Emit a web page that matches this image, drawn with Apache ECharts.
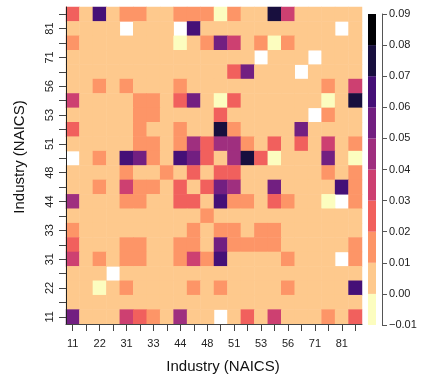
<!DOCTYPE html>
<html>
<head>
<meta charset="utf-8">
<script src="https://cdn.jsdelivr.net/npm/echarts@6/dist/echarts.min.js"></script>
<style>
  html, body { margin: 0; padding: 0; background: #fff; }
  #chart { width: 423px; height: 377px; }
</style>
</head>
<body>
<div id="chart"></div>
<script>
// NAICS sectors, bottom/left to top/right
const industries = ['11', '21', '22', '23', '31', '32', '33', '42', '44', '45', '48',
  '49', '51', '52', '53', '54', '56', '62', '71', '72', '81', '92']

// cell values, one row per sector, listed from the top row (92) down to 11; null = missing
const rows = [
  [0.025, 0.005, 0.065, 0.005, 0.015, 0.015, 0.005, 0.005, 0.015, 0.015, 0.015, -0.005, 0.015, 0.005, 0.005, 0.075, 0.035, 0.005, 0.005, 0.005, 0.005, 0.005],
  [0.005, 0.005, 0.005, 0.005, null, 0.005, 0.005, 0.005, null, 0.065, 0.005, 0.005, 0.005, 0.005, 0.005, 0.005, 0.005, 0.005, 0.005, 0.005, null, 0.005],
  [0.015, 0.005, 0.005, 0.005, 0.005, 0.005, 0.005, 0.005, -0.005, 0.005, 0.015, 0.055, 0.035, 0.005, 0.015, -0.005, 0.015, 0.005, 0.005, 0.005, 0.005, 0.005],
  [0.005, 0.005, 0.005, 0.005, 0.005, 0.005, 0.005, 0.005, 0.005, 0.005, 0.005, 0.005, 0.005, 0.005, null, 0.005, 0.005, 0.005, null, 0.005, 0.005, 0.005],
  [0.005, 0.005, 0.005, 0.005, 0.005, 0.005, 0.005, 0.005, 0.005, 0.005, 0.005, 0.005, 0.025, 0.055, 0.005, 0.005, 0.005, null, 0.005, 0.005, 0.005, 0.005],
  [0.005, 0.005, 0.015, 0.005, 0.015, 0.005, 0.005, 0.005, 0.015, 0.005, 0.005, 0.005, 0.005, 0.005, 0.005, 0.005, 0.005, 0.005, 0.005, 0.015, 0.005, 0.035],
  [0.035, 0.005, 0.005, 0.005, 0.005, 0.015, 0.015, 0.005, 0.025, 0.055, 0.005, -0.005, 0.025, 0.005, 0.005, 0.005, 0.005, 0.005, 0.005, -0.005, 0.005, 0.075],
  [0.005, 0.005, 0.005, 0.005, 0.005, 0.015, 0.015, 0.005, 0.005, 0.005, 0.005, 0.025, 0.005, 0.005, 0.005, 0.005, 0.005, 0.005, null, 0.015, 0.005, 0.005],
  [0.025, 0.005, 0.005, 0.005, 0.005, 0.015, 0.005, 0.005, 0.015, 0.005, 0.005, 0.075, 0.015, 0.005, 0.005, 0.005, 0.005, 0.055, 0.005, 0.005, 0.005, 0.005],
  [0.005, 0.005, 0.005, 0.005, 0.005, 0.015, 0.015, 0.005, 0.015, 0.045, 0.025, 0.045, 0.045, 0.015, 0.005, 0.025, 0.005, 0.025, 0.005, 0.035, 0.005, 0.015],
  [null, 0.005, 0.015, 0.005, 0.065, 0.055, 0.015, 0.005, 0.065, 0.055, 0.025, 0.005, 0.045, 0.075, 0.025, -0.005, 0.005, 0.005, 0.005, 0.055, 0.005, -0.005],
  [0.005, 0.005, 0.005, 0.005, 0.015, 0.005, 0.005, 0.015, 0.005, 0.025, 0.005, 0.025, 0.025, 0.005, 0.005, 0.005, 0.005, 0.005, 0.005, 0.015, 0.005, 0.015],
  [0.005, 0.005, 0.015, 0.005, 0.035, 0.015, 0.015, 0.005, 0.025, 0.005, 0.025, 0.055, 0.045, 0.005, 0.005, 0.055, 0.005, 0.005, 0.005, 0.005, 0.065, 0.015],
  [0.045, 0.005, 0.005, 0.005, 0.015, 0.015, 0.005, 0.005, 0.025, 0.025, 0.005, 0.065, 0.015, 0.015, 0.005, 0.025, 0.015, 0.005, 0.005, -0.005, null, 0.015],
  [0.005, 0.005, 0.005, 0.005, 0.005, 0.005, 0.005, 0.005, 0.005, 0.005, 0.015, 0.005, 0.005, 0.005, 0.005, 0.005, 0.005, 0.005, 0.005, 0.005, 0.005, 0.005],
  [0.015, 0.005, 0.005, 0.005, 0.005, 0.005, 0.005, 0.005, 0.005, 0.015, 0.005, 0.015, 0.015, 0.005, 0.015, 0.015, 0.005, 0.005, 0.005, 0.005, 0.005, 0.005],
  [0.025, 0.005, 0.005, 0.005, 0.015, 0.015, 0.005, 0.005, 0.015, 0.015, 0.005, 0.055, 0.015, 0.015, 0.015, 0.015, 0.005, 0.005, 0.005, 0.005, 0.005, 0.015],
  [0.035, 0.005, 0.015, 0.005, 0.015, 0.015, 0.005, 0.005, 0.015, 0.035, 0.015, 0.065, 0.005, 0.005, 0.005, 0.005, 0.015, 0.005, 0.005, 0.005, null, 0.015],
  [0.005, 0.005, 0.005, null, 0.005, 0.005, 0.005, 0.005, 0.005, 0.005, 0.005, 0.005, 0.005, 0.005, 0.005, 0.005, 0.005, 0.005, 0.005, 0.005, 0.005, 0.005],
  [0.005, 0.005, -0.005, 0.005, 0.015, 0.005, 0.005, 0.005, 0.005, 0.015, 0.005, 0.015, 0.005, 0.005, 0.005, 0.005, 0.015, 0.005, 0.005, 0.005, 0.005, 0.065],
  [0.005, 0.005, 0.005, 0.005, 0.005, 0.005, 0.005, 0.005, 0.005, 0.005, 0.005, 0.005, 0.005, 0.005, 0.005, 0.005, 0.005, 0.005, 0.005, 0.005, 0.005, 0.005],
  [0.055, 0.005, 0.005, 0.005, 0.035, 0.025, 0.015, 0.005, 0.045, 0.005, 0.005, null, 0.005, 0.025, 0.005, 0.035, 0.005, 0.005, 0.005, 0.015, 0.005, 0.025]
]

// legend breaks and colours (magma, light to dark)
const legendBreaks = [-0.01, 0, 0.01, 0.02, 0.03, 0.04, 0.05, 0.06, 0.07, 0.08, 0.09]
const paletteColors = ['#FCFDBF', '#FEC98D', '#FD9567', '#F1605D', '#CD4071',
  '#9F2F7F', '#721F81', '#451077', '#180F3E', '#000004']

const FONT = '"Liberation Sans", Arial, sans-serif'

// plot area
const plotLeft = 66
const plotTop = 7
const plotW = 296
const plotH = 317

const heatData = []
rows.forEach((row, r) => {
  const yIndex = industries.length - 1 - r
  row.forEach((v, x) => {
    if (v !== null) heatData.push([x, yIndex, v])
  })
})

const pieces = []
const barData = []
for (let i = 0; i < paletteColors.length; i++) {
  pieces.push({ gte: legendBreaks[i], lt: legendBreaks[i + 1], color: paletteColors[i] })
  barData.push([0, legendBreaks[i], legendBreaks[i + 1], i])
}

const chart = echarts.init(document.getElementById('chart'))

const option = {
  animation: false,
  backgroundColor: '#fff',
  grid: [
    { left: plotLeft, top: plotTop, width: plotW, height: plotH },
    // colour bar
    { left: 368, top: 14, width: 8, height: 311 }
  ],
  xAxis: [
    {
      type: 'category',
      gridIndex: 0,
      data: industries,
      zlevel: 1,
      axisLine: { show: true, lineStyle: { color: '#444' } },
      axisTick: { show: true, alignWithLabel: true, interval: 0, length: 7, lineStyle: { color: '#444' } },
      axisLabel: { interval: 1, margin: 14, fontSize: 11, color: '#222', fontFamily: FONT },
      splitLine: { show: false }
    },
    {
      type: 'category',
      gridIndex: 1,
      data: [''],
      show: false
    }
  ],
  yAxis: [
    {
      type: 'category',
      gridIndex: 0,
      data: industries,
      zlevel: 1,
      axisLine: { show: true, lineStyle: { color: '#222' } },
      axisTick: { show: true, alignWithLabel: true, interval: 0, length: 7, lineStyle: { color: '#444' } },
      axisLabel: { interval: 1, rotate: 90, margin: 11, fontSize: 11, color: '#222', fontFamily: FONT },
      splitLine: { show: false }
    },
    {
      type: 'value',
      gridIndex: 1,
      position: 'right',
      min: -0.01,
      max: 0.09,
      interval: 0.01,
      offset: 6,
      axisLine: { show: true, lineStyle: { color: '#555' } },
      axisTick: { show: true, length: 5, lineStyle: { color: '#555' } },
      axisLabel: {
        margin: 7,
        fontSize: 11,
        color: '#222',
        fontFamily: FONT,
        formatter: function (v) {
          const r = Math.round(v * 100) / 100
          return r < 0 ? '\u2212' + Math.abs(r).toFixed(2) : r.toFixed(2)
        }
      },
      splitLine: { show: false }
    }
  ],
  visualMap: {
    type: 'piecewise',
    show: false,
    seriesIndex: 0,
    dimension: 2,
    pieces: pieces
  },
  series: [
    {
      type: 'heatmap',
      xAxisIndex: 0,
      yAxisIndex: 0,
      data: heatData,
      itemStyle: { borderWidth: 0 },
      emphasis: { disabled: true }
    },
    {
      type: 'custom',
      xAxisIndex: 1,
      yAxisIndex: 1,
      data: barData,
      encode: { x: 0, y: [1, 2] },
      renderItem: function (params, api) {
        const lo = api.coord([0, api.value(1)])
        const hi = api.coord([0, api.value(2)])
        const w = api.size([1, 0])[0]
        return {
          type: 'rect',
          shape: { x: lo[0] - w / 2, y: hi[1], width: w, height: lo[1] - hi[1] },
          style: { fill: paletteColors[api.value(3)] }
        }
      }
    }
  ],
  graphic: [
    {
      id: 'xTitle',
      type: 'text',
      x: 223,
      y: 367,
      style: { text: 'Industry (NAICS)', font: '15px ' + FONT, fill: '#111', textAlign: 'center', textVerticalAlign: 'middle' }
    },
    {
      id: 'yTitle',
      type: 'text',
      x: 20,
      y: 157,
      rotation: Math.PI / 2,
      style: { text: 'Industry (NAICS)', font: '15px ' + FONT, fill: '#111', textAlign: 'center', textVerticalAlign: 'middle' }
    }
  ]
}

chart.setOption(option)
</script>
</body>
</html>
